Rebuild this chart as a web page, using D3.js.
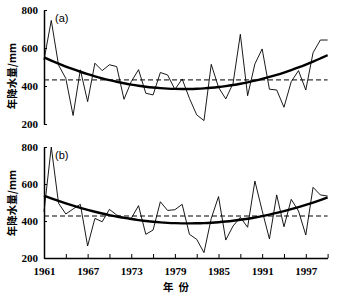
<!DOCTYPE html>
<html>
<head>
<meta charset="utf-8">
<script src="https://cdn.jsdelivr.net/npm/d3@7"></script>
<style>
  body { margin: 0; background: #fff; }
  svg { display: block; }
  .domain, .tick line { stroke: #000; }
</style>
</head>
<body>
<div id="chart"></div>
<script>
// years 1961-2000
const years = d3.range(1961, 2001);

// annual precipitation, panel (a)
const precipA = [537, 745, 510, 440, 245, 485, 318, 520, 481, 512,
                 502, 330, 423, 486, 362, 353, 471, 458, 382, 437,
                 335, 248, 218, 514, 393, 332, 414, 672, 349, 516,
                 595, 383, 379, 288, 423, 481, 379, 575, 642, 642];

// annual precipitation, panel (b)
const precipB = [450, 800, 496, 438, 465, 490, 265, 414, 396, 463,
                 432, 420, 414, 483, 328, 351, 504, 457, 461, 490,
                 328, 301, 229, 414, 532, 297, 373, 420, 366, 616,
                 456, 303, 541, 369, 517, 454, 324, 582, 541, 535];

// long-term reference level (dashed line)
const refA = 432;
const refB = 427;

const yTicks = [200, 400, 600, 800];
const xTicks = d3.range(1961, 2001, 3);
const xLabels = d3.range(1961, 2001, 6);

const W = 339, H = 299;
const svg = d3.select("#chart").append("svg").attr("width", W).attr("height", H);

const x = d3.scaleLinear().domain([1961, 2000]).range([44, 327.6]);

// least squares quadratic trend
function quadFit(xs, ys) {
    const m = d3.mean(xs);
    const t = xs.map(v => v - m);
    let s = [0, 0, 0, 0, 0], r = [0, 0, 0];
    t.forEach((v, i) => {
        for (let k = 0; k < 5; k++) s[k] += Math.pow(v, k);
        for (let k = 0; k < 3; k++) r[k] += Math.pow(v, k) * ys[i];
    });
    const A = [[s[0], s[1], s[2], r[0]], [s[1], s[2], s[3], r[1]], [s[2], s[3], s[4], r[2]]];
    for (let i = 0; i < 3; i++) {
        for (let j = i + 1; j < 3; j++) {
            const f = A[j][i] / A[i][i];
            for (let k = i; k < 4; k++) A[j][k] -= f * A[i][k];
        }
    }
    const c = [0, 0, 0];
    for (let i = 2; i >= 0; i--) {
        let v = A[i][3];
        for (let k = i + 1; k < 3; k++) v -= A[i][k] * c[k];
        c[i] = v / A[i][i];
    }
    return v => c[0] + c[1] * (v - m) + c[2] * (v - m) * (v - m);
}

function styleTicks(a) {
    a.select(".domain").attr("stroke-width", 1.5);
    a.selectAll(".tick text")
        .attr("font-family", "Liberation Serif, DejaVu Serif, serif")
        .attr("font-weight", "bold")
        .attr("font-size", 11)
        .attr("fill", "#000");
}

function drawPanel(values, ref, top, bottom, tag, withXAxis, labelY) {
    const y = d3.scaleLinear().domain([200, 800]).range([bottom, top]);
    const g = svg.append("g");

    g.append("g")
        .attr("transform", "translate(44,0)")
        .call(d3.axisLeft(y).tickValues(yTicks).tickSizeInner(-3).tickSizeOuter(0).tickPadding(6))
        .call(styleTicks);

    if (withXAxis) {
        g.append("g")
            .attr("transform", `translate(0,${bottom})`)
            .call(d3.axisBottom(x).tickValues(xTicks).tickSizeInner(-4).tickSizeOuter(0).tickPadding(9)
                .tickFormat(d => xLabels.includes(d) ? d : ""))
            .call(styleTicks);
    }

    // dashed reference
    g.append("line")
        .attr("x1", x(1961)).attr("x2", x(2000))
        .attr("y1", y(ref)).attr("y2", y(ref))
        .attr("stroke", "#000").attr("stroke-width", 1)
        .attr("stroke-dasharray", "5,3");

    // annual series
    g.append("path")
        .datum(values)
        .attr("fill", "none").attr("stroke", "#000").attr("stroke-width", 0.9)
        .attr("d", d3.line().x((d, i) => x(years[i])).y(d => y(d)));

    // trend
    const fit = quadFit(years, values);
    g.append("path")
        .datum(years)
        .attr("fill", "none").attr("stroke", "#000").attr("stroke-width", 2.4)
        .attr("d", d3.line().x(d => x(d)).y(d => y(fit(d))).curve(d3.curveBasis));

    g.append("text")
        .attr("x", 55).attr("y", top + 12)
        .attr("font-family", "Liberation Sans, Arial, sans-serif")
        .attr("font-size", 11)
        .text(tag);

    g.append("text")
        .attr("transform", `translate(16,${labelY}) rotate(-90)`)
        .attr("text-anchor", "middle")
        .attr("font-family", "Noto Sans CJK SC")
        .attr("font-weight", "bold")
        .attr("font-size", 10.5)
        .text("年降水量/mm");
}

drawPanel(precipA, refA, 10, 124, "(a)", false, 76);
drawPanel(precipB, refB, 147, 258, "(b)", true, 203);

svg.append("text")
    .attr("x", 176).attr("y", 291)
    .attr("text-anchor", "middle")
    .attr("font-family", "Noto Sans CJK SC")
    .attr("font-weight", "bold")
    .attr("font-size", 10.5)
    .attr("xml:space", "preserve")
    .text("年  份");
</script>
</body>
</html>
